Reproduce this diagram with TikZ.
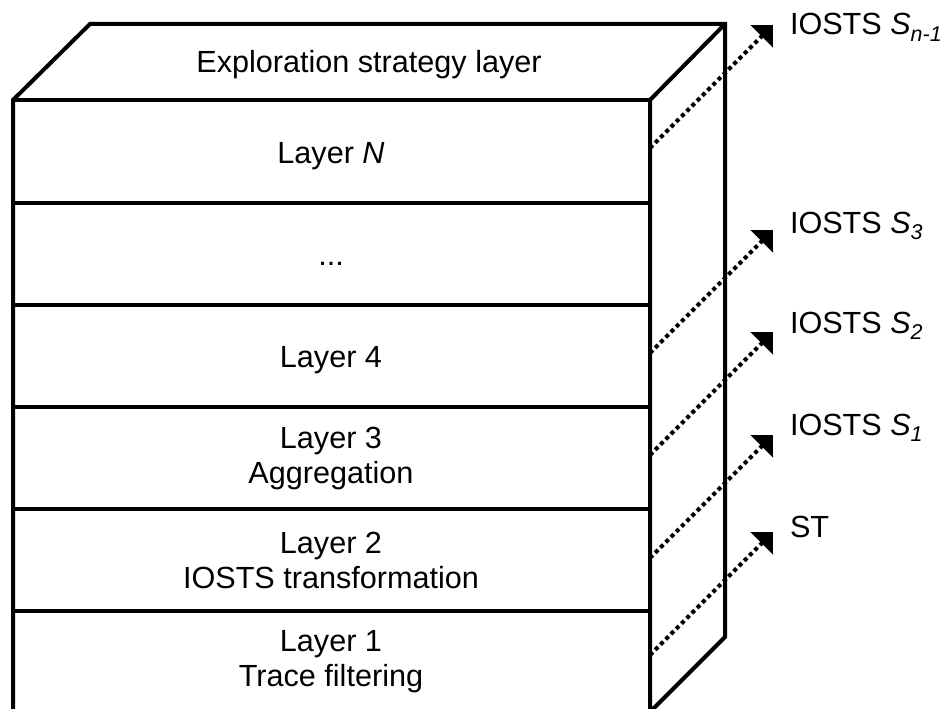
\documentclass[tikz,border=0pt]{standalone}
\usepackage{fontspec}
\setmainfont{Liberation Sans}
\usetikzlibrary{arrows.meta}

\begin{document}
\begin{tikzpicture}[x=1pt,y=-1pt,line width=4pt,
    every node/.style={font=\fontsize{30.6}{35}\selectfont, align=center, inner sep=0pt},
    flow/.style={line width=4pt, dash pattern=on 4pt off 3.4pt, -{Triangle[length=16pt,width=31pt]}}]
        \useasboundingbox (0,0) rectangle (942,709);
        \coordinate (A) at (13, 100);
        \coordinate (B) at (650, 100);
        \coordinate (C) at (725, 24);
        \coordinate (D) at (90, 24);
        \coordinate (E) at (725, 637);
        \coordinate (F) at (650, 712);
        \coordinate (G) at (13, 712);
        \draw (G) -- (A) -- (D) -- (C) -- (E) -- (F) -- (B) -- (C);
        \draw (A) -- (B);
        \draw (13, 203) -- (650, 203);
        \draw (13, 305) -- (650, 305);
        \draw (13, 407) -- (650, 407);
        \draw (13, 509) -- (650, 509);
        \draw (13, 611) -- (650, 611);

        \node [anchor=base] (top) at (369, 73) {Exploration strategy layer};
        \node [anchor=base] (LN) at (331, 163) {Layer \textit{N}};
        \node [anchor=base] (Ld) at (331, 265) {...};
        \node [anchor=base] (L4) at (331, 367) {Layer 4};
        \node (L3) at (331, 458) {Layer 3\\Aggregation};
        \node (L2) at (331, 560) {Layer 2\\IOSTS transformation};
        \node (L1) at (331, 662) {Layer 1\\Trace filtering};

        \coordinate (PN) at (650, 148);
        \coordinate (P4) at (650, 353);
        \coordinate (P3) at (650, 455);
        \coordinate (P2) at (650, 558);
        \coordinate (P1) at (650, 655);
        \coordinate (TN) at (773, 25);
        \coordinate (T4) at (773, 230);
        \coordinate (T3) at (773, 332);
        \coordinate (T2) at (773, 435);
        \coordinate (T1) at (773, 532);
        \draw [flow] (PN) -- (TN);
        \draw [flow] (P4) -- (T4);
        \draw [flow] (P3) -- (T3);
        \draw [flow] (P2) -- (T2);
        \draw [flow] (P1) -- (T1);

        \node [anchor=base west] (SN) at (788, 35) {IOSTS \textit{S\textsubscript{n-1}}};
        \node [anchor=base west] (S3) at (788, 233) {IOSTS \textit{S\textsubscript{3}}};
        \node [anchor=base west] (S2) at (788, 333) {IOSTS \textit{S\textsubscript{2}}};
        \node [anchor=base west] (S1) at (788, 435) {IOSTS \textit{S\textsubscript{1}}};
        \node [anchor=base west] (ST) at (788, 537) {ST};
    \end{tikzpicture}
\end{document}
